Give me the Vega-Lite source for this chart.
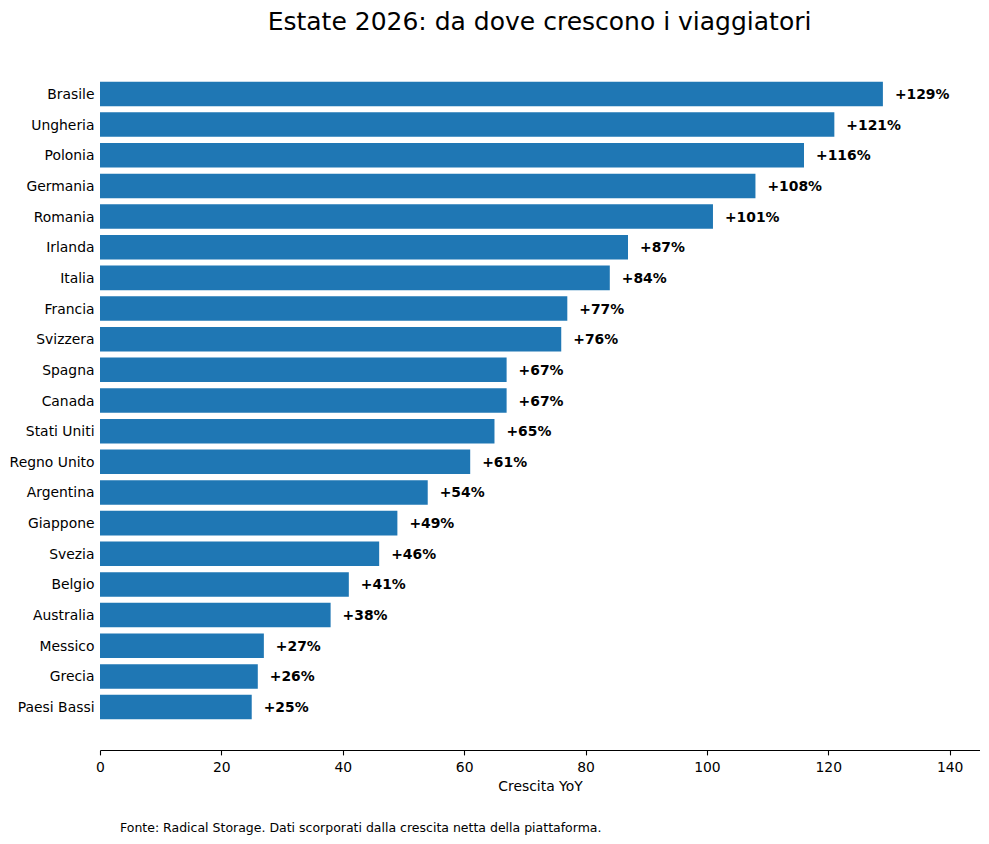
{
  "$schema": "https://vega.github.io/schema/vega-lite/v6.json",
  "autosize": {"type": "pad"},
  "padding": {"left": 9, "top": 10, "right": 0, "bottom": 0},
  "background": "white",
  "title": {
    "text": "Estate 2026: da dove crescono i viaggiatori",
    "font": "DejaVu Sans",
    "fontSize": 25,
    "fontWeight": "normal",
    "color": "black",
    "anchor": "middle",
    "dx": 45,
    "offset": 16
  },
  "data": {
    "values": [
      {"paese": "Brasile", "crescita": 129},
      {"paese": "Ungheria", "crescita": 121},
      {"paese": "Polonia", "crescita": 116},
      {"paese": "Germania", "crescita": 108},
      {"paese": "Romania", "crescita": 101},
      {"paese": "Irlanda", "crescita": 87},
      {"paese": "Italia", "crescita": 84},
      {"paese": "Francia", "crescita": 77},
      {"paese": "Svizzera", "crescita": 76},
      {"paese": "Spagna", "crescita": 67},
      {"paese": "Canada", "crescita": 67},
      {"paese": "Stati Uniti", "crescita": 65},
      {"paese": "Regno Unito", "crescita": 61},
      {"paese": "Argentina", "crescita": 54},
      {"paese": "Giappone", "crescita": 49},
      {"paese": "Svezia", "crescita": 46},
      {"paese": "Belgio", "crescita": 41},
      {"paese": "Australia", "crescita": 38},
      {"paese": "Messico", "crescita": 27},
      {"paese": "Grecia", "crescita": 26},
      {"paese": "Paesi Bassi", "crescita": 25}
    ]
  },
  "vconcat": [
    {
      "width": 880,
      "height": 699,
      "title": {
        "text": "Fonte: Radical Storage. Dati scorporati dalla crescita netta della piattaforma.",
        "orient": "bottom",
        "anchor": "start",
        "frame": "group",
        "font": "DejaVu Sans",
        "fontSize": 12.5,
        "fontWeight": "normal",
        "color": "black",
        "dx": 20,
        "offset": 28
      },
      "encoding": {
        "y": {
          "field": "paese",
          "type": "nominal",
          "sort": null,
          "title": null,
          "scale": {"paddingInner": 0.2, "paddingOuter": 1.04},
          "axis": {
            "domain": false,
            "ticks": false,
            "labelPadding": 6,
            "labelOffset": 1,
            "labelFont": "DejaVu Sans",
            "labelFontSize": 13.9,
            "labelColor": "black"
          }
        },
        "x": {
          "field": "crescita",
          "type": "quantitative",
          "title": "Crescita YoY",
          "scale": {"domain": [0, 145], "nice": false},
          "axis": {
            "values": [0, 20, 40, 60, 80, 100, 120, 140],
            "grid": false,
            "labelFlush": false,
            "domainColor": "black",
            "domainWidth": 1.1,
            "tickColor": "black",
            "tickWidth": 1.1,
            "tickSize": 4.9,
            "labelPadding": 6,
            "labelFont": "DejaVu Sans",
            "labelFontSize": 13.9,
            "labelColor": "black",
            "titleFont": "DejaVu Sans",
            "titleFontSize": 13.9,
            "titleFontWeight": "normal",
            "titleColor": "black",
            "titlePadding": 5
          }
        }
      },
      "layer": [
        {
          "mark": {"type": "bar", "color": "#1f77b4"}
        },
        {
          "transform": [{"calculate": "'+' + datum.crescita + '%'", "as": "etichetta"}],
          "mark": {
            "type": "text",
            "align": "left",
            "baseline": "middle",
            "dx": 12,
            "dy": 1,
            "font": "DejaVu Sans",
            "fontSize": 13.9,
            "fontWeight": "bold",
            "color": "black"
          },
          "encoding": {
            "text": {"field": "etichetta"}
          }
        }
      ]
    }
  ],
  "config": {
    "view": {"stroke": null}
  }
}
